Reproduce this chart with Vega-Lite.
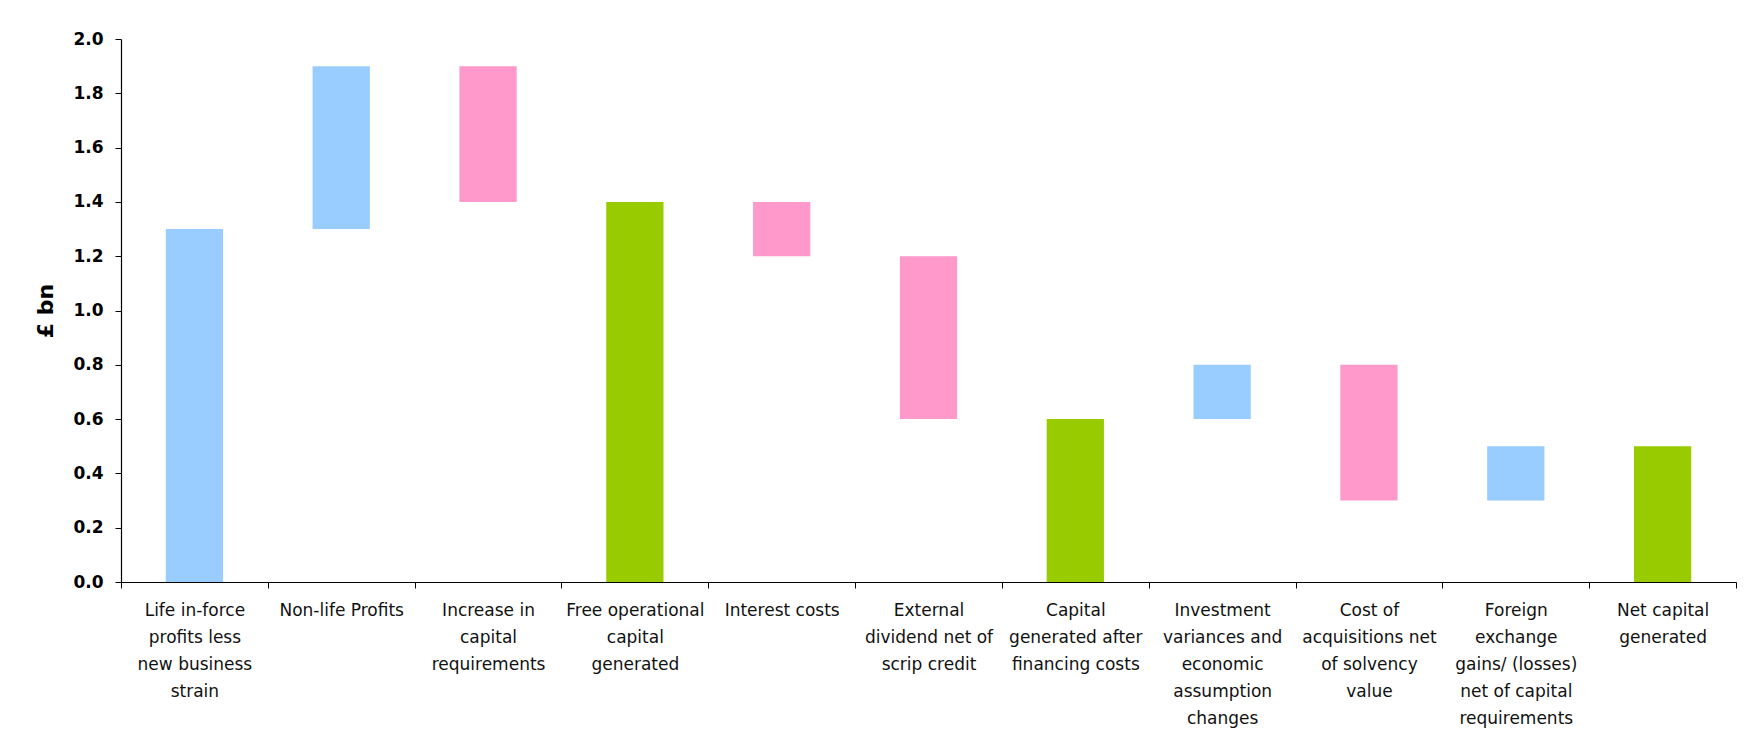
{
  "$schema": "https://vega.github.io/schema/vega-lite/v6.json",
  "autosize": "none",
  "width": 1615,
  "height": 543,
  "padding": {"left": 121, "top": 39, "right": 17, "bottom": 155},
  "background": "white",
  "config": {"view": {"stroke": null}},
  "data": {
    "values": [
      {"step": "Life in-force|profits less|new business|strain", "start": 0, "end": 1.3, "kind": "increase"},
      {"step": "Non-life Profits", "start": 1.3, "end": 1.9, "kind": "increase"},
      {"step": "Increase in|capital|requirements", "start": 1.9, "end": 1.4, "kind": "decrease"},
      {"step": "Free operational|capital|generated", "start": 0, "end": 1.4, "kind": "total"},
      {"step": "Interest costs", "start": 1.4, "end": 1.2, "kind": "decrease"},
      {"step": "External|dividend net of|scrip credit", "start": 1.2, "end": 0.6, "kind": "decrease"},
      {"step": "Capital|generated after|financing costs", "start": 0, "end": 0.6, "kind": "total"},
      {"step": "Investment|variances and|economic|assumption|changes", "start": 0.6, "end": 0.8, "kind": "increase"},
      {"step": "Cost of|acquisitions net|of solvency|value", "start": 0.8, "end": 0.3, "kind": "decrease"},
      {"step": "Foreign|exchange|gains/ (losses)|net of capital|requirements", "start": 0.3, "end": 0.5, "kind": "increase"},
      {"step": "Net capital|generated", "start": 0, "end": 0.5, "kind": "total"}
    ]
  },
  "mark": {"type": "bar", "width": {"band": 0.39}},
  "encoding": {
    "x": {
      "field": "step",
      "type": "nominal",
      "sort": null,
      "scale": {"paddingInner": 0, "paddingOuter": 0},
      "axis": {
        "title": null,
        "labelAngle": 0,
        "labelExpr": "split(datum.label, '|')",
        "labelFont": "DejaVu Sans",
        "labelFontSize": 17,
        "labelColor": "#111",
        "labelLineHeight": 27,
        "labelBaseline": "top",
        "labelPadding": 14,
        "labelLimit": 300,
        "tickBand": "extent",
        "tickSize": 6,
        "tickColor": "#000",
        "domainColor": "#000",
        "domainWidth": 1.2
      }
    },
    "y": {
      "field": "start",
      "type": "quantitative",
      "scale": {"domain": [0, 2], "nice": false, "zero": true},
      "axis": {
        "title": "£ bn",
        "titleFont": "DejaVu Sans",
        "titleFontSize": 22,
        "titleFontWeight": "bold",
        "titleColor": "#000",
        "titlePadding": 15,
        "values": [0, 0.2, 0.4, 0.6, 0.8, 1.0, 1.2, 1.4, 1.6, 1.8, 2.0],
        "format": ".1f",
        "labelFont": "DejaVu Sans",
        "labelFontSize": 17,
        "labelFontWeight": "bold",
        "labelColor": "#000",
        "labelPadding": 12,
        "tickSize": 6,
        "tickColor": "#000",
        "domainColor": "#000",
        "domainWidth": 1.2,
        "grid": false
      }
    },
    "y2": {"field": "end"},
    "color": {
      "field": "kind",
      "type": "nominal",
      "scale": {"domain": ["increase", "decrease", "total"], "range": ["#99CCFF", "#FF99CC", "#99CC00"]},
      "legend": null
    }
  }
}
